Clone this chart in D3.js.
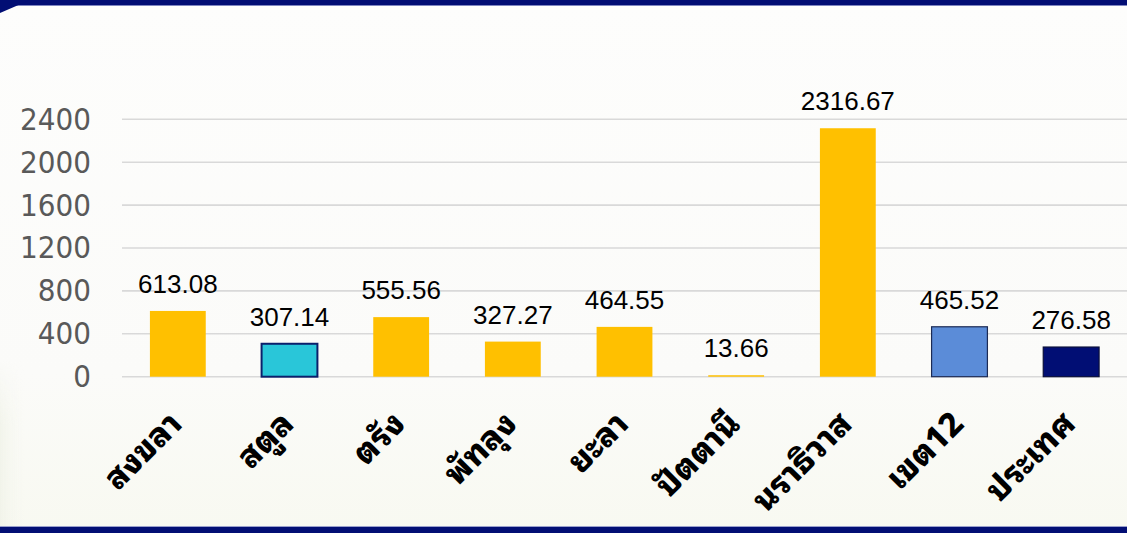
<!DOCTYPE html>
<html>
<head>
<meta charset="utf-8">
<script src="https://cdn.jsdelivr.net/npm/d3@7"></script>
<style>
  html, body { margin: 0; padding: 0; background: #fcfcfa; }
  svg { display: block; }
</style>
</head>
<body>
<svg id="chart" width="1127" height="533"></svg>
<script>
// Rate per province (Health Region 12) with region and national comparison
const categories = ["สงขลา", "สตูล", "ตรัง", "พัทลุง", "ยะลา", "ปัตตานี", "นราธิวาส", "เขต12", "ประเทศ"];
const values = [613.08, 307.14, 555.56, 327.27, 464.55, 13.66, 2316.67, 465.52, 276.58];
const yTicks = [0, 400, 800, 1200, 1600, 2000, 2400];

const barFill = ["#FFC000", "#29C6D9", "#FFC000", "#FFC000", "#FFC000", "#FFC000", "#FFC000", "#5B8CD8", "#010E74"];
const barStroke = [null, "#0B1F6B", null, null, null, null, null, "#1C2B55", "#0A0F3A"];

const W = 1127, H = 533;
const svg = d3.select("#chart");

// background wash
const defs = svg.append("defs");
const bg = defs.append("linearGradient").attr("id", "bgGrad")
  .attr("x1", 0).attr("y1", 0).attr("x2", 0).attr("y2", 1);
bg.append("stop").attr("offset", "0%").attr("stop-color", "#fdfdfc");
bg.append("stop").attr("offset", "70%").attr("stop-color", "#fbfbf9");
bg.append("stop").attr("offset", "100%").attr("stop-color", "#f8f9f1");
svg.append("rect").attr("width", W).attr("height", H).attr("fill", "url(#bgGrad)");

const side = defs.append("linearGradient").attr("id", "sideGrad")
  .attr("x1", 0).attr("y1", 0).attr("x2", 1).attr("y2", 0);
side.append("stop").attr("offset", "0%").attr("stop-color", "#eef1e6").attr("stop-opacity", 0.7);
side.append("stop").attr("offset", "100%").attr("stop-color", "#f8f9f1").attr("stop-opacity", 0);
const sideV = defs.append("linearGradient").attr("id", "sideMask")
  .attr("x1", 0).attr("y1", 0).attr("x2", 0).attr("y2", 1);
sideV.append("stop").attr("offset", "0%").attr("stop-color", "#fff").attr("stop-opacity", 0);
sideV.append("stop").attr("offset", "40%").attr("stop-color", "#fff").attr("stop-opacity", 1);
defs.append("mask").attr("id", "fadeTop")
  .append("rect").attr("x", 0).attr("y", 360).attr("width", 30).attr("height", 166).attr("fill", "url(#sideMask)");
svg.append("rect").attr("x", 0).attr("y", 360).attr("width", 24).attr("height", 166)
  .attr("fill", "url(#sideGrad)").attr("mask", "url(#fadeTop)");

// scales
const x = d3.scaleBand().domain(categories).range([122, 1127]).paddingInner(0.5).paddingOuter(0.25);
const y = d3.scaleLinear().domain([0, 2400]).range([376.7, 119.3]);

// gridlines
svg.append("g").selectAll("line").data(yTicks).join("line")
  .attr("x1", 122).attr("x2", W)
  .attr("y1", d => y(d)).attr("y2", d => y(d))
  .attr("stroke", "#d9d9d9").attr("stroke-width", 1.6);

// y axis labels
const yAxis = svg.append("g").attr("transform", "translate(91,0)")
  .call(d3.axisLeft(y).tickValues(yTicks).tickFormat(d3.format("d")).tickSize(0).tickPadding(0));
yAxis.select(".domain").remove();
yAxis.selectAll("text")
  .attr("fill", "#595959")
  .style("font-family", "'DejaVu Sans Condensed', 'DejaVu Sans', sans-serif")
  .style("font-size", "31px");

// bars
svg.append("g").selectAll("rect").data(values).join("rect")
  .attr("x", (d, i) => x(categories[i]))
  .attr("width", x.bandwidth())
  .attr("y", d => y(d))
  .attr("height", d => y(0) - y(d))
  .attr("fill", (d, i) => barFill[i])
  .attr("stroke", (d, i) => barStroke[i] || "none")
  .attr("stroke-width", (d, i) => i === 1 ? 2 : 1.2);

// value labels
svg.append("g").selectAll("text").data(values).join("text")
  .attr("x", (d, i) => x(categories[i]) + x.bandwidth() / 2)
  .attr("y", d => y(d) - 18)
  .attr("text-anchor", "middle")
  .attr("fill", "#000")
  .style("font-family", "'Liberation Sans', Arial, sans-serif")
  .style("font-size", "26px")
  .text(d => d.toFixed(2));

// category labels, rotated
const xAxis = svg.append("g").attr("transform", `translate(0,${y(0)})`)
  .call(d3.axisBottom(x).tickSize(0).tickPadding(0));
xAxis.select(".domain").remove();
xAxis.selectAll("text")
  .attr("text-anchor", "end")
  .attr("dy", 0)
  .attr("transform", "translate(6,49) rotate(-45)")
  .attr("fill", "#000")
  .style("font-family", "'Noto Sans Thai Looped', 'Noto Serif Thai', sans-serif")
  .style("font-weight", "800")
  .style("font-size", "33px");

// frame bands
svg.append("rect").attr("x", 0).attr("y", 0).attr("width", W).attr("height", 5).attr("fill", "#020E74");
svg.append("rect").attr("x", 0).attr("y", 5).attr("width", W).attr("height", 1).attr("fill", "#7f86c0");
svg.append("path").attr("d", "M0,0 L30,0 L0,13 Z").attr("fill", "#020E74");
svg.append("rect").attr("x", 0).attr("y", 526).attr("width", W).attr("height", 1).attr("fill", "#9aa0cc");
svg.append("rect").attr("x", 0).attr("y", 527).attr("width", W).attr("height", 6).attr("fill", "#020E74");
</script>
</body>
</html>
